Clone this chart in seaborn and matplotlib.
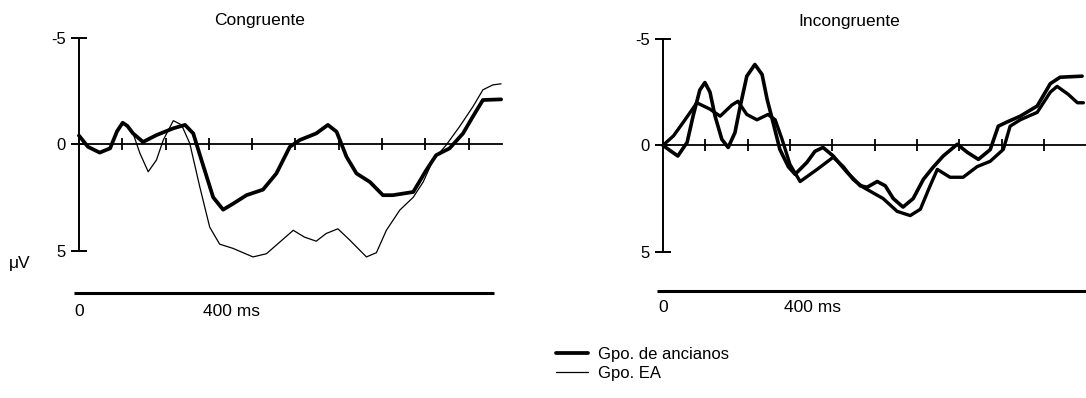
import numpy as np
import pandas as pd
import matplotlib
matplotlib.use("Agg")
import matplotlib.pyplot as plt
import seaborn as sns

sns.set_style("white")
plt.rcParams['font.family'] = ['Liberation Sans', 'DejaVu Sans']
plt.rcParams['text.color'] = 'black'
plt.rcParams['axes.edgecolor'] = 'black'

# ---- data (time in ms, amplitude in microvolts) ----
cong_anc_t = [0, 21, 48, 72, 88, 101, 112, 125, 148, 179, 218, 245, 264, 283, 310, 333, 356, 387,
              425, 456, 487, 510, 548, 575, 595, 618, 641, 672, 702, 725, 772, 802, 825,
              856, 887, 910, 933, 975]
cong_anc_v = [-0.4, 0.13, 0.4, 0.2, -0.6, -1.0, -0.85, -0.5, -0.1, -0.42, -0.74, -0.9, -0.5, 0.75, 2.5,
              3.08, 2.8, 2.4, 2.14, 1.38, 0.13, -0.19, -0.5, -0.9, -0.58, 0.6, 1.38, 1.78,
              2.4, 2.4, 2.25, 1.23, 0.52, 0.2, -0.5, -1.3, -2.07, -2.1]

cong_ea_t = [0, 21, 48, 72, 88, 101, 112, 125, 141, 160, 179, 195, 218, 237, 256, 279, 302, 325,
             356, 402, 433, 464, 495, 521, 548, 571, 598, 625, 664, 687, 710, 741, 772,
             795, 818, 848, 879, 910, 933, 956, 975]
cong_ea_v = [-0.4, 0.13, 0.4, 0.2, -0.6, -1.0, -0.85, -0.5, 0.44, 1.3, 0.75, -0.2, -1.1, -0.9, -0.03,
             2.0, 3.9, 4.7, 4.9, 5.3, 5.15, 4.6, 4.05, 4.37, 4.56, 4.2, 3.98, 4.5, 5.3,
             5.1, 4.05, 3.1, 2.5, 1.78, 0.75, 0.05, -0.82, -1.76, -2.55, -2.78, -2.83]

incong_anc_t = [0, 17, 35, 57, 71, 87, 99, 111, 123, 139, 154, 170, 182, 198, 217, 234,
                246, 260, 276, 296, 312, 340, 359, 378, 402, 435, 466, 482, 506, 525,
                544, 567, 591, 615, 638, 662, 695, 719, 745, 773, 792, 813, 844, 884,
                915, 938, 990]
incong_anc_v = [0, 0.25, 0.5, -0.14, -1.37, -2.6, -2.95, -2.5, -1.37, -0.28, 0.1, -0.6,
                -1.8, -3.25, -3.8, -3.33, -2.16, -1.08, 0.19, 1.0, 1.36, 0.8, 0.28, 0.1,
                0.5, 1.27, 1.9, 1.97, 1.7, 1.9, 2.5, 2.9, 2.5, 1.6, 1.03, 0.5, -0.05,
                0.33, 0.66, 0.2, -0.9, -1.1, -1.37, -1.85, -2.9, -3.2, -3.25]

incong_ea_t = [0, 25, 52, 80, 111, 135, 163, 177, 198, 222, 248, 265, 281, 300, 324, 364,
               402, 426, 449, 473, 520, 553, 584, 608, 631, 648, 678, 709, 742, 773, 804,
               820, 844, 884, 915, 931, 957, 979, 993]
incong_ea_v = [0, -0.45, -1.2, -2.0, -1.7, -1.37, -1.9, -2.07, -1.45, -1.2, -1.45, -1.2,
               -0.3, 0.9, 1.7, 1.13, 0.56, 1.0, 1.6, 1.97, 2.5, 3.1, 3.3, 3.0, 1.9, 1.13,
               1.5, 1.5, 1.0, 0.75, 0.19, -0.9, -1.2, -1.55, -2.5, -2.77, -2.4, -2.0, -2.0]

panel_titles = ["Congruente", "Incongruente"]
group_labels = ["Gpo. de ancianos", "Gpo. EA"]
y_ticks = [-5, 0, 5]
time_ticks = [100, 200, 300, 400, 500, 600, 700, 800, 900]

fig = plt.figure(figsize=(10.86, 3.98), dpi=100)
ax1 = fig.add_axes([0.0647, 0.210, 0.4067, 0.749])
ax2 = fig.add_axes([0.6027, 0.207, 0.3976, 0.7487])

panels = [
    (ax1, cong_anc_t, cong_anc_v, cong_ea_t, cong_ea_v, 2.7, 0.9, 977, 418, (-12, 958, 7.0), 7.84),
    (ax2, incong_anc_t, incong_anc_v, incong_ea_t, incong_ea_v, 2.6, 2.4, 1000, 440, (-14, 1000, 6.84), 7.64),
]

for i, (ax, ta, va, te, ve, lw_a, lw_e, zero_end, title_x, base, lab_y) in enumerate(panels):
    df_a = pd.DataFrame({"t": ta, "v": va})
    df_e = pd.DataFrame({"t": te, "v": ve})
    sns.lineplot(data=df_a, x="t", y="v", ax=ax, color="black", linewidth=lw_a,
                 label=group_labels[0])
    sns.lineplot(data=df_e, x="t", y="v", ax=ax, color="black", linewidth=lw_e,
                 label=group_labels[1])
    ax.get_legend().remove()

    ax.set_xlim(-20, 1000)
    ax.set_ylim(8, -6)
    ax.set_xlabel("")
    ax.set_ylabel("")

    # y axis: vertical line with T-shaped caps
    ax.spines['left'].set_position(('data', 0))
    ax.spines['left'].set_bounds(-5, 5)
    ax.spines['left'].set_linewidth(1.4)
    ax.set_yticks(y_ticks)
    ax.set_yticklabels(["-5", "0", "5"], fontsize=12)
    ax.tick_params(axis='y', left=True, direction='inout', length=11, width=1.4,
                   pad=4, color='black', labelcolor='black')

    # zero line with time ticks
    ax.spines['bottom'].set_position(('data', 0))
    ax.spines['bottom'].set_bounds(0, zero_end)
    ax.spines['bottom'].set_linewidth(1.3)
    ax.set_xticks(time_ticks)
    ax.set_xticklabels([])
    ax.tick_params(axis='x', bottom=True, direction='inout', length=9, width=1.3,
                   color='black')

    ax.spines['top'].set_visible(False)
    ax.spines['right'].set_visible(False)

    # separate time bar underneath
    ax.hlines(base[2], base[0], base[1], color="black", linewidth=2.2, clip_on=False)
    ax.text(0, lab_y, "0", fontsize=12.5, ha="center", va="center")
    ax.text(286, lab_y, "400 ms", fontsize=12.5, ha="left", va="center")

    ax.text(title_x, -5.8, panel_titles[i], fontsize=12.5, ha="center", va="center",
            clip_on=False)

ax1.text(-136, 5.6, "μV", fontsize=12.5, ha="center", va="center", clip_on=False)

handles = ax1.get_lines()[:2]
fig.legend(handles, group_labels, loc="upper left", bbox_to_anchor=(0.512, 0.128),
           frameon=False, fontsize=12, handlelength=1.9, handletextpad=0.6,
           labelspacing=0.25, borderpad=0, borderaxespad=0)

fig.savefig("out.png", dpi=100)
